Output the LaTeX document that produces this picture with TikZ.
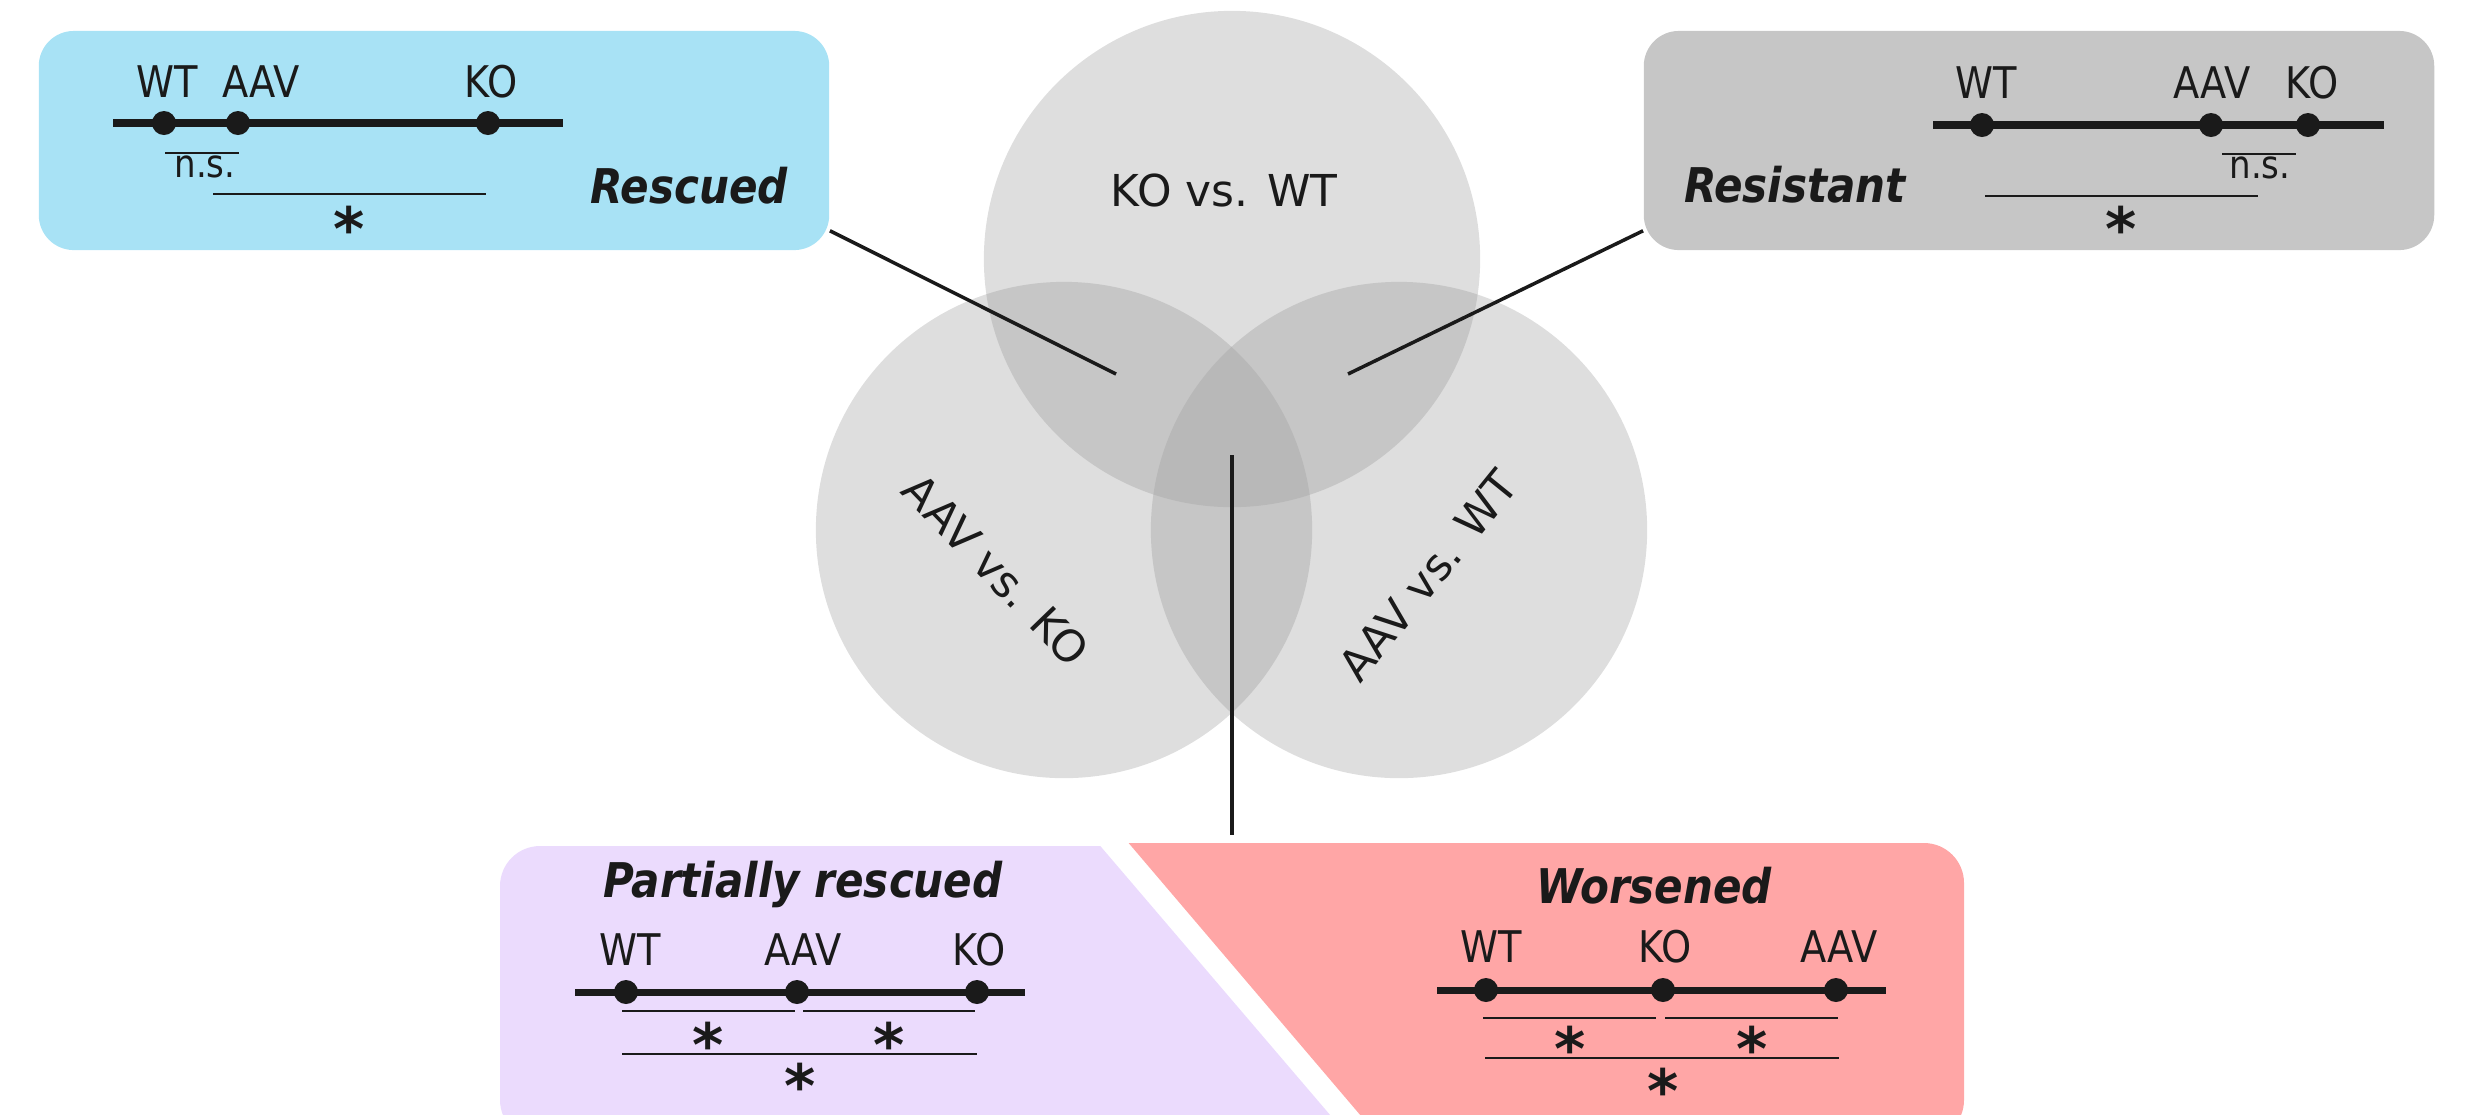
\documentclass[tikz,border=0pt]{standalone}
\usepackage{fontspec}
\setmainfont{DejaVu Sans}
\newfontfamily\condfont{DejaVu Sans}[FakeStretch=0.88]
\usepackage{tikz}
\usetikzlibrary{calc,positioning}

\definecolor{rescuedblue}{HTML}{A8E2F5}
\definecolor{resistgray}{HTML}{C6C6C6}
\definecolor{partlilac}{HTML}{EBDBFD}
\definecolor{worsered}{HTML}{FFA6A6}
\definecolor{vennone}{HTML}{DEDEDE}
\definecolor{venntwo}{HTML}{C6C6C6}
\definecolor{vennthree}{HTML}{B8B8B8}
\definecolor{ink}{HTML}{1A1A1A}

\tikzset{
  panel/.style={rounded corners=0.35cm, inner sep=0pt, minimum width=7.9cm, minimum height=2.19cm},
  grp/.style={font=\condfont\fontsize{12.4}{14}\selectfont, text=ink, inner sep=0pt},
  tag/.style={font=\condfont\bfseries\itshape\fontsize{13.6}{15}\selectfont, text=ink, inner sep=0pt},
  ns/.style={font=\condfont\fontsize{11}{13}\selectfont, text=ink, inner sep=0pt},
  sig/.style={font=\bfseries\fontsize{17}{17}\selectfont, text=ink, inner sep=0pt, anchor=base, yshift=-8.8pt},
  venn/.style={font=\fontsize{12.5}{15}\selectfont, text=ink, inner sep=0pt},
  scaleline/.style={ink, line width=2pt},
  bar/.style={ink, line width=0.5pt},
  dot/.style={circle, fill=ink, inner sep=0pt, minimum size=0.24cm},
  link/.style={ink, line width=1pt},
}

\begin{document}
\begin{tikzpicture}[x=0.01cm,y=-0.01cm]
\clip (0,0) rectangle (2467,1114);

\coordinate (ko) at (1232,259);
\coordinate (aavko) at (1064,530);
\coordinate (aavwt) at (1399,530);
\fill[vennone] (ko) circle (2.48cm);
\fill[vennone] (aavko) circle (2.48cm);
\fill[vennone] (aavwt) circle (2.48cm);
\begin{scope}
  \clip (ko) circle (2.48cm);
  \fill[venntwo] (aavko) circle (2.48cm);
  \fill[venntwo] (aavwt) circle (2.48cm);
\end{scope}
\begin{scope}
  \clip (aavko) circle (2.48cm);
  \fill[venntwo] (aavwt) circle (2.48cm);
\end{scope}
\begin{scope}
  \clip (ko) circle (2.48cm);
  \clip (aavko) circle (2.48cm);
  \fill[vennthree] (aavwt) circle (2.48cm);
\end{scope}
\node[venn] (kolabel) at (1224,190) {KO vs. WT};
\node[venn, rotate=-46] (aavkolabel) at (996,570) {AAV vs. KO};
\node[venn, rotate=51] (aavwtlabel) at (1428,576) {AAV vs. WT};

\node[panel, fill=rescuedblue] (rescued) at (434,140.5) {};
\node[panel, fill=resistgray] (resistant) at (2039,140.5) {};

\coordinate (pairleft) at (1116,374);
\coordinate (pairright) at (1348,374);
\coordinate (triple) at (1232,455);
\coordinate (split) at (1232,835);
\draw[link] ([yshift=0.2cm]rescued.south east) -- (pairleft);
\draw[link] ([yshift=0.2cm]resistant.south west) -- (pairright);
\draw[link] (triple) -- (split);

\begin{scope}
  \clip (400,800) -- (1061,800) -- (1360,1150) -- (400,1150) -- cycle;
  \fill[partlilac, rounded corners=0.4cm] (500,846) rectangle (1500,1140);
\end{scope}
\begin{scope}
  \clip (1092,800) -- (2100,800) -- (2100,1150) -- (1390,1150) -- cycle;
  \fill[worsered, rounded corners=0.4cm] (1000,843) rectangle (1964,1140);
\end{scope}

\draw[scaleline] (113,123) -- (563,123);
\node[dot] (rWT) at (164,123) {};
\node[dot] (rAAV) at (238,123) {};
\node[dot] (rKO) at (488,123) {};
\node[grp] at (167,82) {WT};
\node[grp] at (261,82) {AAV};
\node[grp] at (491,82) {KO};
\draw[bar] (165,153) -- (239,153);
\node[ns] at (205,167) {n.s.};
\draw[bar] (213,194) -- (486,194);
\node[sig] at (349,220) {*};
\node[tag] (rescuedtag) at (689,186) {Rescued};

\draw[scaleline] (1933,125) -- (2384,125);
\node[dot] (sWT) at (1982,125) {};
\node[dot] (sAAV) at (2211,125) {};
\node[dot] (sKO) at (2308,125) {};
\node[grp] at (1986,83) {WT};
\node[grp] at (2212,83) {AAV};
\node[grp] at (2312,83) {KO};
\draw[bar] (2222,154) -- (2296,154);
\node[ns] at (2260,168) {n.s.};
\draw[bar] (1985,196) -- (2258,196);
\node[sig] at (2121,220) {*};
\node[tag] (resistanttag) at (1795,185) {Resistant};

\node[tag, anchor=base] (partialtag) at (803,897) {Partially rescued};
\draw[scaleline] (575,992) -- (1025,992);
\node[dot] (pWT) at (626,992) {};
\node[dot] (pAAV) at (797,992) {};
\node[dot] (pKO) at (977,992) {};
\node[grp] at (630,950) {WT};
\node[grp] at (803,950) {AAV};
\node[grp] at (979,950) {KO};
\draw[bar] (622,1011) -- (795,1011);
\draw[bar] (803,1011) -- (975,1011);
\node[sig] at (708,1036) {*};
\node[sig] at (889,1036) {*};
\draw[bar] (622,1054) -- (977,1054);
\node[sig] at (800,1077) {*};

\node[tag] (worsenedtag) at (1654,886) {Worsened};
\draw[scaleline] (1437,990) -- (1886,990);
\node[dot] (wWT) at (1486,990) {};
\node[dot] (wKO) at (1663,990) {};
\node[dot] (wAAV) at (1836,990) {};
\node[grp] at (1491,947) {WT};
\node[grp] at (1665,947) {KO};
\node[grp] at (1839,947) {AAV};
\draw[bar] (1483,1018) -- (1656,1018);
\draw[bar] (1665,1018) -- (1838,1018);
\node[sig] at (1570,1040) {*};
\node[sig] at (1752,1040) {*};
\draw[bar] (1485,1058) -- (1839,1058);
\node[sig] at (1663,1082) {*};
\end{tikzpicture}
\end{document}
